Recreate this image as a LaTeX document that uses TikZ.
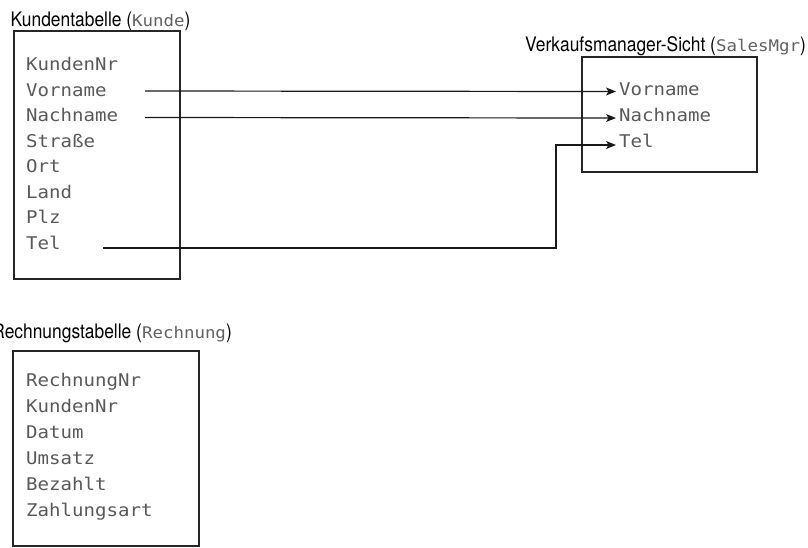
\documentclass[tikz,border=0pt]{standalone}
\usepackage{fontspec}
\setmainfont[FakeStretch=0.87]{TeX Gyre Heros}
\newfontfamily\monof[FakeStretch=1.09]{DejaVu Sans Mono}
\usetikzlibrary{arrows.meta}
\newcommand\mtxt[1]{{\monof\color{black!62}\fontsize{16}{20}\selectfont #1}}
\tikzset{
  tbl/.style={draw=black!85, line width=1.2pt, inner sep=0pt},
  fld/.style={font=\monof\fontsize{17.5}{20}\selectfont, text=black!65, anchor=base west, inner sep=0pt},
  ttlw/.style={font=\fontsize{20}{24}\selectfont, anchor=base west, inner sep=0pt},
  ttle/.style={font=\fontsize{20}{24}\selectfont, anchor=base east, inner sep=0pt},
  conn/.style={line width=1.2pt, draw=black!90},
  arr/.style={conn, -{Stealth[length=10pt,width=8pt,inset=2.5pt]}},
}
\begin{document}
\begin{tikzpicture}[x=1pt,y=-1pt]
\useasboundingbox (0,0) rectangle (808,547);
% boxes
\node[tbl, minimum width=166pt, minimum height=248pt] (kbox) at (97,155) {};
\node[tbl, minimum width=175pt, minimum height=115pt] (sbox) at (669.5,114.5) {};
\node[tbl, minimum width=186pt, minimum height=195pt] (rbox) at (106,448.5) {};
% titles
\node[ttlw] (tk) at (10.5,26) {Kundentabelle (\mtxt{Kunde})};
\node[ttle] (ts) at (806,51) {Verkaufsmanager-Sicht (\mtxt{SalesMgr})};
\node[ttle] (tr) at (232,338) {Rechnungstabelle (\mtxt{Rechnung})};
% Kunde fields
\node[fld] (k1) at (26,70.5) {KundenNr};
\node[fld] (k2) at (26,96) {Vorname};
\node[fld] (k3) at (26,121.5) {Nachname};
\node[fld] (k4) at (26,147) {Straße};
\node[fld] (k5) at (26,172.5) {Ort};
\node[fld] (k6) at (26,198) {Land};
\node[fld] (k7) at (26,223.5) {Plz};
\node[fld] (k8) at (26,249) {Tel};
% SalesMgr fields
\node[fld] (s1) at (619,95.5) {Vorname};
\node[fld] (s2) at (619,121.5) {Nachname};
\node[fld] (s3) at (619,147.5) {Tel};
% Rechnung fields
\node[fld] (r1) at (26,386) {RechnungNr};
\node[fld] (r2) at (26,412) {KundenNr};
\node[fld] (r3) at (26,438) {Datum};
\node[fld] (r4) at (26,464) {Umsatz};
\node[fld] (r5) at (26,490) {Bezahlt};
\node[fld] (r6) at (26,516) {Zahlungsart};
% connector ends
\coordinate (cv0) at (145,91);
\coordinate (cv1) at (616,91.5);
\coordinate (cn0) at (145,117.5);
\coordinate (cn1) at (616,118);
\coordinate (ct0) at (103,248);
\coordinate (ct1) at (616,145);
\draw[arr] (cv0) -- (cv1);
\draw[arr] (cn0) -- (cn1);
\draw[arr] (ct0) -- (556,248) -- (556,145) -- (ct1);
\end{tikzpicture}
\end{document}
